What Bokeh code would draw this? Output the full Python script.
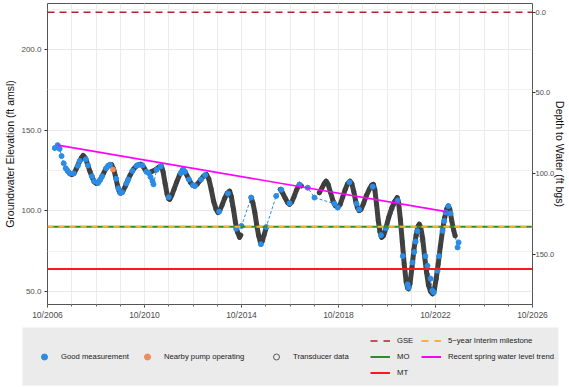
from bokeh.plotting import figure
from bokeh.models import (Range1d, LinearAxis, FixedTicker, NumeralTickFormatter,
                          Legend, LegendItem)
from bokeh.layouts import column
from bokeh.embed import file_html
from bokeh.resources import INLINE

# ---- data (decimal years, ft amsl) ----
# continuous transducer record, one list per logged stretch
transducer_t = [
    [2007.55, 2007.65, 2007.75, 2007.85, 2007.95, 2008.05, 2008.15, 2008.22, 2008.30, 2008.40,
     2008.50, 2008.60, 2008.70, 2008.77, 2008.85, 2008.95, 2009.05, 2009.15, 2009.28, 2009.39,
     2009.48, 2009.56, 2009.64, 2009.71, 2009.77, 2009.85, 2009.95, 2010.05, 2010.15, 2010.30,
     2010.45, 2010.60, 2010.72, 2010.82, 2010.92, 2011.05, 2011.20, 2011.35, 2011.45, 2011.52,
     2011.60, 2011.68, 2011.75, 2011.79, 2011.87, 2011.97, 2012.08, 2012.20, 2012.34, 2012.45,
     2012.55, 2012.65, 2012.75, 2012.82, 2012.92, 2013.05, 2013.18, 2013.30, 2013.40, 2013.50,
     2013.60, 2013.70, 2013.78, 2013.86, 2013.96, 2014.06, 2014.16, 2014.26, 2014.33, 2014.42,
     2014.50, 2014.58, 2014.67, 2014.72],
    [2015.15, 2015.22, 2015.30, 2015.38, 2015.46, 2015.53, 2015.60, 2015.68, 2015.77],
    [2016.35, 2016.45, 2016.55, 2016.65, 2016.73, 2016.82, 2016.92, 2017.02, 2017.14, 2017.22],
    [2017.96, 2018.06, 2018.16, 2018.24, 2018.32, 2018.42, 2018.52, 2018.62, 2018.72, 2018.82,
     2018.92, 2019.02, 2019.12, 2019.22, 2019.30, 2019.38, 2019.46, 2019.53, 2019.60, 2019.68,
     2019.78, 2019.90, 2020.02, 2020.12, 2020.19, 2020.25, 2020.32, 2020.39, 2020.46, 2020.53,
     2020.60, 2020.70, 2020.82, 2020.95, 2021.07, 2021.17, 2021.23, 2021.30, 2021.38, 2021.46,
     2021.54, 2021.60, 2021.64, 2021.70, 2021.78, 2021.86, 2021.95, 2022.03, 2022.08, 2022.14,
     2022.22, 2022.30, 2022.38, 2022.46, 2022.55, 2022.63, 2022.70, 2022.78, 2022.86, 2022.95,
     2023.04, 2023.13, 2023.22, 2023.28, 2023.34, 2023.42, 2023.50, 2023.56],
]
transducer_v = [
    [125.5, 123.5, 122.6, 123.5, 126.5, 130.0, 133.0, 134.4, 133.0, 129.0,
     124.5, 120.5, 117.8, 117.0, 117.8, 120.0, 123.0, 126.0, 128.3, 128.8,
     126.0, 121.0, 115.5, 112.0, 111.0, 112.0, 115.0, 118.5, 122.0, 126.0,
     128.3, 129.0, 127.0, 124.5, 123.5, 124.5, 125.5, 127.2, 127.8, 124.0,
     117.0, 110.5, 107.5, 107.2, 109.5, 113.5, 118.0, 122.5, 125.7, 123.5,
     120.5, 117.5, 115.8, 115.4, 116.5, 119.0, 121.5, 122.6, 120.0, 113.5,
     106.0, 101.0, 99.0, 100.5, 104.0, 108.0, 111.0, 112.3, 109.0, 101.0,
     93.0, 87.0, 83.6, 85.0],
    [108.3, 105.0, 99.0, 91.0, 84.5, 80.5, 81.0, 85.0, 89.7],
    [113.4, 111.0, 108.0, 105.2, 104.1, 105.5, 109.0, 113.0, 116.5, 115.5],
    [111.3, 114.0, 117.0, 118.5, 116.5, 111.5, 106.5, 103.2, 102.1, 104.0,
     108.5, 113.0, 116.8, 118.5, 117.0, 112.0, 106.0, 102.0, 100.2, 101.0,
     104.5, 109.5, 113.5, 116.0, 116.5, 113.0, 104.0, 94.0, 87.0, 83.6,
     84.5, 89.0, 96.0, 102.0, 106.0, 108.3, 105.0, 95.0, 81.0, 67.0,
     56.0, 52.3, 51.7, 55.0, 65.0, 76.0, 85.0, 90.5, 91.8, 90.0,
     83.0, 72.0, 62.0, 54.0, 50.0, 48.6, 51.0, 58.0, 67.0, 78.0,
     88.0, 96.0, 101.5, 103.0, 101.0, 94.0, 88.0, 84.6],
]

# manual (good) measurements
good_t = [2007.05, 2007.17, 2007.25, 2007.33, 2007.42, 2007.50, 2007.58, 2007.67, 2007.83, 2008.00,
          2008.08, 2008.33, 2008.42, 2008.58, 2008.67, 2008.83, 2008.92, 2009.00, 2009.17, 2009.25,
          2009.33, 2009.58, 2009.67, 2009.75, 2009.83, 2010.00, 2010.08, 2010.25, 2010.42, 2010.50,
          2010.67, 2010.83, 2010.92, 2011.00, 2011.08, 2011.12, 2011.25, 2011.42, 2011.75, 2012.25,
          2012.33, 2012.42, 2012.58, 2012.75, 2012.83, 2013.08, 2013.25, 2013.83, 2014.19, 2014.53,
          2014.75, 2015.15, 2015.55, 2015.77, 2016.18, 2016.39, 2016.73, 2017.14, 2017.48, 2017.76,
          2018.58, 2018.72, 2019.20, 2019.49, 2019.60, 2020.16, 2020.50, 2020.70, 2021.19, 2021.40,
          2021.60, 2021.64, 2021.80, 2021.87, 2021.93, 2022.00, 2022.33, 2022.42, 2022.55, 2022.62,
          2022.68, 2022.83, 2022.90, 2023.04, 2023.11, 2023.17, 2023.28, 2023.37, 2023.66, 2023.70]
good_v = [139.0, 140.8, 138.5, 134.0, 129.5, 126.5, 124.8, 123.3, 123.2, 128.0,
          131.0, 132.0, 128.2, 121.5, 118.3, 117.3, 119.2, 121.5, 126.5, 128.0,
          128.7, 120.0, 114.0, 111.2, 111.6, 117.0, 119.5, 124.8, 128.0, 128.6,
          128.3, 124.3, 123.5, 121.0, 118.5, 116.5, 125.5, 127.7, 108.5, 123.5,
          125.5, 124.3, 119.5, 116.0, 115.5, 119.5, 122.3, 99.6, 110.8, 89.0,
          90.7, 108.3, 79.4, 90.0, 109.3, 113.2, 104.8, 116.3, 114.4, 108.3,
          104.5, 102.1, 117.8, 104.5, 101.0, 115.0, 85.0, 89.2, 106.5, 72.0,
          54.5, 52.5, 68.0, 74.5, 81.0, 87.5, 72.0, 66.0, 58.0, 50.6,
          49.5, 63.0, 72.0, 87.7, 93.8, 99.0, 103.0, 98.5, 77.4, 80.5]

# measurement taken while a nearby pump was running
pump_t = [2009.45]
pump_v = [125.7]

# recent spring water level trend (end points)
trend_t = [2007.17, 2023.25]
trend_v = [140.8, 99.4]

# reference elevations
GSE = 223.2           # ground surface elevation
MO = 90.2             # measurable objective
INTERIM = 90.2        # 5-year interim milestone
MT = 64.0             # minimum threshold

x_tick_years = [2006.75, 2010.75, 2014.75, 2018.75, 2022.75, 2026.75]
x_tick_labels = ["10/2006", "10/2010", "10/2014", "10/2018", "10/2022", "10/2026"]
x_year_lines = [2006.75 + i for i in range(21)]
y_ticks = [50, 100, 150, 200]
y_minor = [75, 125, 175, 225]
depth_ticks = [0, 50, 100, 150]

Y_LO, Y_HI = 42.0, 228.6
X_LO, X_HI = x_tick_years[0], x_tick_years[-1]

# ---- styles ----
FONT = "Liberation Sans"
BLUE = "#2A8CE6"
ORANGE = "#F08B5B"
DARK = "#424242"
GSE_RED = "#B2222A"
GREEN = "#2E8B2E"
GOLD = "#F7B336"
RED = "#FF1A1A"
MAGENTA = "#FF00FF"

p = figure(width=569, height=322, output_backend="svg", toolbar_location=None,
           x_range=Range1d(X_LO, X_HI), y_range=Range1d(Y_LO, Y_HI),
           min_border_left=47, min_border_right=36, min_border_top=3, min_border_bottom=17,
           outline_line_color="#555555", outline_line_width=1,
           background_fill_color="white", border_fill_color="white")

# secondary axis: depth below ground surface
p.extra_y_ranges = {"depth": Range1d(start=GSE - Y_LO, end=GSE - Y_HI)}
raxis = LinearAxis(y_range_name="depth", axis_label="Depth to Water (ft bgs)")
p.add_layout(raxis, "right")

p.xaxis.ticker = FixedTicker(ticks=x_tick_years, minor_ticks=x_year_lines)
p.xaxis.major_label_overrides = dict(zip(x_tick_years, x_tick_labels))
p.yaxis[0].ticker = FixedTicker(ticks=y_ticks, minor_ticks=y_minor)
p.yaxis[0].formatter = NumeralTickFormatter(format="0.0")
p.yaxis[0].axis_label = "Groundwater Elevation (ft amsl)"
raxis.ticker = FixedTicker(ticks=depth_ticks)
raxis.formatter = NumeralTickFormatter(format="0.0")

for ax in [p.xaxis[0], p.yaxis[0], raxis]:
    ax.axis_line_color = None
    ax.major_tick_line_color = "#333333"
    ax.major_tick_out = 3
    ax.major_tick_in = 0
    ax.minor_tick_line_color = None
    ax.major_label_text_font = FONT
    ax.major_label_text_font_size = "8px"
    ax.major_label_text_color = "#4D4D4D"
    ax.major_label_standoff = 2
    ax.axis_label_text_font = FONT
    ax.axis_label_text_font_size = "10.5px"
    ax.axis_label_text_font_style = "normal"
    ax.axis_label_text_color = "#111111"
    ax.axis_label_standoff = 2
p.xaxis[0].major_label_text_font_size = "8.5px"
p.xaxis[0].minor_tick_line_color = "#666666"
p.xaxis[0].minor_tick_out = 2
p.xaxis[0].minor_tick_in = 0
raxis.major_label_text_font_size = "7.5px"
raxis.major_label_standoff = 0
raxis.axis_label_standoff = -3

p.xgrid.grid_line_color = "#EBEBEB"
p.xgrid.minor_grid_line_color = "#EBEBEB"
p.ygrid.grid_line_color = "#E8E8E8"
p.ygrid.minor_grid_line_color = "#F0F0F0"

# data
p.line(good_t, good_v, line_color=BLUE, line_width=1, line_dash="3 2")
p.multi_line(transducer_t, transducer_v, line_color=DARK, line_width=5,
             line_join="round", line_cap="round")
p.scatter([t for seg in transducer_t for t in seg], [v for seg in transducer_v for v in seg],
          marker="circle", size=4, fill_color=None, line_color="#383838", line_width=0.8)
p.scatter(good_t, good_v, marker="circle", size=5, fill_color=BLUE, line_color=BLUE)
p.scatter(pump_t, pump_v, marker="circle", size=5, fill_color=ORANGE, line_color=ORANGE)

# reference levels
p.line([X_LO, X_HI], [MT, MT], line_color=RED, line_width=1.8)
p.line([X_LO, X_HI], [MO, MO], line_color=GREEN, line_width=2)
p.line([X_LO, X_HI], [INTERIM, INTERIM], line_color=GOLD, line_width=2, line_dash="6 5")
p.line([X_LO, X_HI], [GSE, GSE], line_color=GSE_RED, line_width=1.6, line_dash="7 5")
p.line(trend_t, trend_v, line_color=MAGENTA, line_width=1.6)

# ---- legend panel (grey box) ----
lg = figure(width=569, height=65, output_backend="svg", toolbar_location=None,
            x_range=Range1d(0, 1), y_range=Range1d(0, 1),
            x_axis_location=None, y_axis_location=None,
            min_border_left=22, min_border_right=11, min_border_top=5, min_border_bottom=2,
            background_fill_color="#EBEBEB", border_fill_color="white",
            outline_line_color=None)
lg.grid.visible = False
for fig in (p, lg):
    if "frame_align" in fig.properties():
        fig.frame_align = False

# key glyphs, kept outside the visible range of the legend panel
KX, KY = [-2, -1], [-2, -2]
k_good = lg.scatter(KX, KY, marker="circle", size=5, fill_color=BLUE, line_color=BLUE)
k_pump = lg.scatter(KX, KY, marker="circle", size=5, fill_color=ORANGE, line_color=ORANGE)
k_tr = lg.scatter(KX, KY, marker="circle", size=5, fill_color=None, line_color="#333333", line_width=0.8)
k_gse = lg.line(KX, KY, line_color=GSE_RED, line_width=1.6, line_dash="7 6")
k_mo = lg.line(KX, KY, line_color=GREEN, line_width=2)
k_mt = lg.line(KX, KY, line_color=RED, line_width=2)
k_int = lg.line(KX, KY, line_color=GOLD, line_width=2, line_dash="7 6")
k_trend = lg.line(KX, KY, line_color=MAGENTA, line_width=2)


def make_legend(items, loc, orientation="vertical", spacing=1):
    leg = Legend(items=[LegendItem(label=t, renderers=[r]) for t, r in items],
                 location=loc, orientation=orientation,
                 background_fill_alpha=0, border_line_color=None,
                 padding=0, margin=0, spacing=spacing,
                 glyph_width=20, glyph_height=15, label_height=15,
                 label_standoff=7, label_text_font=FONT,
                 label_text_font_size="7.7px", label_text_color="#1A1A1A")
    lg.add_layout(leg)
    return leg


make_legend([("Good measurement", k_good), ("Nearby pump operating", k_pump)],
            (12, 21), "horizontal", spacing=8)
make_legend([("Transducer data", k_tr)], (244, 21), "horizontal")
make_legend([("GSE", k_gse), ("MO", k_mo), ("MT", k_mt)], (348, 5))
make_legend([("5\u2212year Interim milestone", k_int),
             ("Recent spring water level trend", k_trend)], (399, 21))

layout = column(p, lg, spacing=0)
open("out.html", "w").write(file_html(layout, INLINE))
